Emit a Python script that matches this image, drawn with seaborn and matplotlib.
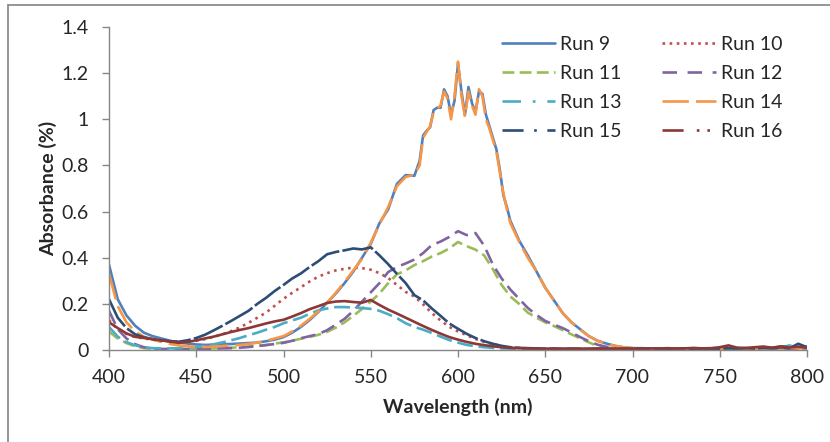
import numpy as np
import matplotlib
matplotlib.use("Agg")
import matplotlib.pyplot as plt
from matplotlib.lines import Line2D
from matplotlib.patches import Rectangle
from matplotlib.ticker import FuncFormatter, MultipleLocator
import seaborn as sns

# wavelength grids (nm)
wl = np.arange(400, 805, 5)
wl_fine = np.concatenate([np.arange(400, 580, 5), np.arange(578, 632, 2), np.arange(635, 805, 5)])

run9 = [0.37, 0.22, 0.15, 0.105, 0.075, 0.06, 0.05, 0.04, 0.032, 0.028,
        0.024, 0.022, 0.023, 0.025, 0.026, 0.028, 0.03, 0.032, 0.038, 0.045,
        0.056, 0.075, 0.1, 0.13, 0.165, 0.205, 0.245, 0.29, 0.34, 0.4,
        0.46, 0.55, 0.61, 0.72, 0.758, 0.755,
        0.82, 0.93, 0.95, 0.965, 1.04, 1.05, 1.05, 1.13, 1.10, 1.02, 1.08, 1.24, 1.12, 1.02,
        1.14, 1.07, 1.03, 1.12, 1.11, 1.02, 0.97, 0.92, 0.87, 0.78, 0.67, 0.62, 0.56,
        0.475, 0.41, 0.34, 0.27, 0.215, 0.16, 0.12, 0.09, 0.06, 0.04,
        0.028, 0.018, 0.011, 0.008, 0.008, 0.007, 0.006, 0.006, 0.005, 0.006,
        0.005, 0.006, 0.005, 0.007, 0.006, 0.008, 0.006, 0.009, 0.012, 0.01,
        0.014, 0.018, 0.012, 0.015]
run14 = [0.33, 0.19, 0.12, 0.08, 0.058, 0.045, 0.035, 0.026, 0.02, 0.016,
         0.014, 0.013, 0.015, 0.017, 0.02, 0.022, 0.026, 0.032, 0.04, 0.05,
         0.06, 0.08, 0.105, 0.135, 0.168, 0.205, 0.248, 0.295, 0.345, 0.395,
         0.465, 0.545, 0.62, 0.71, 0.75, 0.76,
         0.8, 0.92, 0.945, 0.97, 1.03, 1.045, 1.06, 1.12, 1.09, 1.0, 1.1, 1.25, 1.1, 1.01,
         1.12, 1.06, 1.02, 1.13, 1.1, 1.0, 0.96, 0.91, 0.86, 0.77, 0.68, 0.61, 0.55,
         0.47, 0.4, 0.34, 0.27, 0.215, 0.16, 0.12, 0.088, 0.06, 0.04,
         0.027, 0.018, 0.012, 0.008, 0.006, 0.005, 0.005, 0.004, 0.005, 0.004,
         0.005, 0.004, 0.005, 0.005, 0.004, 0.006, 0.005, 0.006, 0.005, 0.008,
         0.006, 0.01, 0.007, 0.008]
run10 = [0.13, 0.09, 0.07, 0.056, 0.05, 0.045, 0.041, 0.038, 0.036, 0.036,
         0.04, 0.047, 0.057, 0.068, 0.082, 0.098, 0.118, 0.14, 0.162, 0.192,
         0.222, 0.248, 0.272, 0.297, 0.318, 0.333, 0.345, 0.352, 0.357, 0.355,
         0.348, 0.333, 0.312, 0.282, 0.252, 0.232, 0.198, 0.16, 0.128, 0.1,
         0.08, 0.064, 0.048, 0.035, 0.025, 0.017, 0.012, 0.009, 0.007, 0.006,
         0.005, 0.005, 0.004, 0.005, 0.004, 0.004, 0.005, 0.004, 0.004, 0.005,
         0.004, 0.005, 0.004, 0.004, 0.005, 0.004, 0.006, 0.004, 0.005, 0.004,
         0.005, 0.006, 0.004, 0.007, 0.005, 0.006, 0.008, 0.005, 0.007, 0.006, 0.005]
run11 = [0.08, 0.05, 0.03, 0.016, 0.008, 0.005, 0.004, 0.004, 0.004, 0.005,
         0.005, 0.006, 0.007, 0.008, 0.01, 0.012, 0.015, 0.018, 0.022, 0.028,
         0.033, 0.04, 0.049, 0.057, 0.066, 0.079, 0.097, 0.12, 0.148, 0.178,
         0.21, 0.245, 0.29, 0.328, 0.345, 0.368, 0.385, 0.405, 0.42, 0.44,
         0.468, 0.45, 0.435, 0.41, 0.35, 0.282, 0.232, 0.2, 0.162, 0.14,
         0.12, 0.104, 0.086, 0.068, 0.05, 0.033, 0.018, 0.011, 0.007, 0.005,
         0.005, 0.004, 0.005, 0.004, 0.004, 0.005, 0.004, 0.005, 0.004, 0.004,
         0.005, 0.004, 0.006, 0.005, 0.004, 0.006, 0.005, 0.007, 0.005, 0.006, 0.005]
run12 = [0.17, 0.09, 0.05, 0.025, 0.012, 0.006, 0.004, 0.004, 0.004, 0.004,
         0.005, 0.005, 0.006, 0.007, 0.008, 0.01, 0.013, 0.017, 0.021, 0.026,
         0.031, 0.04, 0.051, 0.06, 0.069, 0.086, 0.11, 0.135, 0.17, 0.21,
         0.25, 0.29, 0.338, 0.36, 0.375, 0.392, 0.42, 0.455, 0.47, 0.49,
         0.515, 0.498, 0.507, 0.452, 0.37, 0.31, 0.262, 0.222, 0.182, 0.152,
         0.126, 0.11, 0.095, 0.076, 0.056, 0.038, 0.023, 0.014, 0.009, 0.006,
         0.005, 0.005, 0.004, 0.005, 0.004, 0.005, 0.004, 0.004, 0.005, 0.004,
         0.005, 0.005, 0.004, 0.006, 0.005, 0.005, 0.006, 0.004, 0.006, 0.005, 0.004]
run13 = [0.10, 0.058, 0.034, 0.02, 0.012, 0.008, 0.007, 0.007, 0.008, 0.01,
         0.013, 0.018, 0.025, 0.033, 0.042, 0.052, 0.064, 0.075, 0.088, 0.1,
         0.116, 0.128, 0.14, 0.157, 0.172, 0.18, 0.186, 0.186, 0.184, 0.182,
         0.178, 0.17, 0.155, 0.138, 0.116, 0.1, 0.088, 0.074, 0.058, 0.043,
         0.032, 0.022, 0.016, 0.012, 0.009, 0.007, 0.006, 0.005, 0.005, 0.004,
         0.004, 0.005, 0.004, 0.004, 0.005, 0.004, 0.004, 0.005, 0.004, 0.004,
         0.005, 0.004, 0.005, 0.004, 0.005, 0.004, 0.006, 0.005, 0.004, 0.005,
         0.006, 0.005, 0.007, 0.005, 0.006, 0.008, 0.006, 0.009, 0.019, 0.008, 0.006]
run15 = [0.22, 0.14, 0.095, 0.068, 0.055, 0.047, 0.042, 0.038, 0.036, 0.042,
         0.052, 0.066, 0.085, 0.105, 0.126, 0.148, 0.17, 0.2, 0.226, 0.256,
         0.282, 0.31, 0.332, 0.36, 0.385, 0.415, 0.425, 0.432, 0.44, 0.436,
         0.445, 0.41, 0.372, 0.33, 0.29, 0.238, 0.215, 0.18, 0.148, 0.115,
         0.092, 0.07, 0.052, 0.038, 0.027, 0.018, 0.012, 0.009, 0.008, 0.007,
         0.006, 0.006, 0.005, 0.006, 0.005, 0.005, 0.006, 0.005, 0.005, 0.006,
         0.005, 0.006, 0.005, 0.006, 0.005, 0.006, 0.007, 0.005, 0.006, 0.005,
         0.006, 0.007, 0.006, 0.008, 0.006, 0.009, 0.007, 0.012, 0.008, 0.027, 0.012]
run16 = [0.12, 0.095, 0.072, 0.057, 0.052, 0.047, 0.042, 0.036, 0.031, 0.035,
         0.042, 0.05, 0.058, 0.068, 0.078, 0.087, 0.095, 0.105, 0.115, 0.124,
         0.131, 0.145, 0.16, 0.177, 0.19, 0.204, 0.21, 0.212, 0.208, 0.205,
         0.217, 0.195, 0.175, 0.158, 0.14, 0.122, 0.104, 0.087, 0.071, 0.056,
         0.045, 0.035, 0.027, 0.021, 0.016, 0.012, 0.009, 0.008, 0.007, 0.006,
         0.005, 0.006, 0.005, 0.005, 0.006, 0.005, 0.006, 0.005, 0.006, 0.005,
         0.006, 0.005, 0.007, 0.006, 0.008, 0.006, 0.007, 0.009, 0.007, 0.008,
         0.012, 0.02, 0.01, 0.009, 0.012, 0.015, 0.01, 0.016, 0.011, 0.014, 0.01]

labels = ["Run 9", "Run 10", "Run 11", "Run 12", "Run 13", "Run 14", "Run 15", "Run 16"]
colors = ["#4F81BD", "#C0504D", "#9BBB59", "#8064A2", "#4BACC6", "#F79646", "#2C4D75", "#8C3836"]
# dash patterns as they look in the legend
leg_styles = ["-", (0, (1, 1.7)), (0, (4.5, 2)), (0, (5.5, 4)), (0, (7, 4.5, 1, 4.5)),
              (0, (10, 2.7)), (0, (8, 4, 1, 4)), (0, (8, 5, 1, 3, 1, 3))]
# dense data makes the long dash-dot lines look almost solid in the plot
plot_styles = ["-", (0, (1, 1.7)), (0, (4.5, 2)), (0, (5.5, 2.5)), (0, (6, 2.2)),
               (0, (10, 2.7)), (0, (12, 1.2)), "-"]
xs = [wl_fine, wl, wl, wl, wl, wl_fine, wl, wl]
ys = [run9, run10, run11, run12, run13, run14, run15, run16]

sns.set_style("white")
plt.rcParams["font.family"] = ["Lato", "DejaVu Sans"]
FS = 14

fig = plt.figure(figsize=(8.3, 4.42), dpi=100)
ax = fig.add_axes([109 / 830, 1 - 350 / 442, (807 - 109) / 830, (350 - 27) / 442])

LW = 1.9
for x, y, lab, c, ls in zip(xs, ys, labels, colors, plot_styles):
    sns.lineplot(x=x, y=y, ax=ax, color=c, linestyle=ls, linewidth=LW, label=lab)

ax.set_xlim(400, 800)
ax.set_ylim(0, 1.4)
ax.xaxis.set_major_locator(MultipleLocator(50))
ax.yaxis.set_major_locator(MultipleLocator(0.2))
ax.yaxis.set_major_formatter(FuncFormatter(lambda v, p: "%g" % round(v, 1)))
ax.set_xlabel("Wavelength (nm)", fontsize=FS, fontweight="bold", labelpad=9)
ax.set_ylabel("Absorbance (%)", fontsize=FS, fontweight="bold", labelpad=3)
ax.tick_params(axis="x", labelsize=FS, direction="out", length=5, width=1,
               color="#868686", pad=8.5, bottom=True)
ax.tick_params(axis="y", labelsize=FS, direction="out", length=5, width=1,
               color="#868686", pad=9.5, left=True)

for s in ["top", "right"]:
    ax.spines[s].set_visible(False)
for s in ["left", "bottom"]:
    ax.spines[s].set_color("#868686")
    ax.spines[s].set_linewidth(1)

# legend: row-major order like the original (2 columns)
proxies = [Line2D([], [], color=c, linestyle=ls, linewidth=LW) for c, ls in zip(colors, leg_styles)]
order = [0, 2, 4, 6, 1, 3, 5, 7]
ax.legend([proxies[i] for i in order], [labels[i] for i in order], ncol=2, frameon=False,
          loc="upper left", bbox_to_anchor=(502 / 830, 1 - 35.5 / 442),
          bbox_transform=fig.transFigure, fontsize=FS, handlelength=2.73,
          handletextpad=0.26, columnspacing=2.1, labelspacing=0.63, borderpad=0,
          borderaxespad=0)

# chart area border
fig.patches.append(Rectangle((8 / 830, -0.1), 1.2, 1 - 5 / 442 + 0.1, transform=fig.transFigure,
                             fill=False, edgecolor="#8C8C8C", linewidth=1.3))

fig.savefig("out.png", dpi=100)
